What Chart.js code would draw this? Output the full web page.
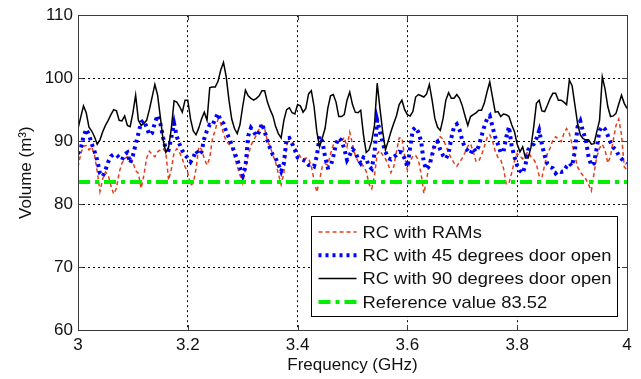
<!DOCTYPE html>
<html>
<head>
<meta charset="utf-8">
<title>Volume vs Frequency</title>
<script src="https://cdn.jsdelivr.net/npm/chart.js"></script>
<style>
    body { margin: 0; background: #fff; }
    canvas { display: block; }
</style>
</head>
<body>
<canvas id="volChart" width="641" height="379"></canvas>
<script>
// frequency grid: 3 to 4 GHz, sampled every 5 MHz
var FREQ_START = 3.0, FREQ_STEP = 0.005;
var REFERENCE_VALUE = 83.52;

// volume (m^3), one row per 0.1 GHz
var volRAM = [
    85.9, 88.0, 89.2, 89.3, 88.6, 89.1, 87.8, 85.2, 82.0, 84.0, 85.1, 84.6, 82.9, 81.6, 82.5, 85.0, 86.5, 87.2, 87.5, 87.5,
    86.7, 85.3, 84.9, 82.5, 84.6, 87.3, 88.4, 87.9, 87.5, 88.3, 88.6, 88.8, 88.2, 83.8, 85.5, 88.2, 88.8, 88.2, 87.2, 85.9,
    85.0, 83.0, 83.3, 85.6, 89.1, 88.7, 87.2, 86.2, 87.3, 90.5, 91.7, 93.5, 92.8, 91.2, 90.0, 89.5, 89.1, 87.4, 86.0, 84.6,
    83.3, 85.6, 87.7, 89.3, 90.2, 91.0, 91.9, 92.6, 92.0, 90.0, 89.1, 87.8, 86.6, 84.8, 83.1, 84.9, 89.3, 90.6, 89.9, 88.9,
    88.4, 87.5, 87.1, 87.3, 87.3, 86.0, 83.8, 81.9, 83.8, 86.0, 86.4, 86.2, 88.0, 89.4, 90.0, 89.9, 90.0, 90.6, 89.1, 91.4,
    89.5, 87.7, 86.8, 86.5, 86.0, 85.2, 83.2, 82.4, 84.5, 88.0, 88.5, 87.8, 87.2, 86.3, 85.0, 85.9, 88.3, 90.5, 90.5, 87.5,
    85.4, 86.7, 87.7, 87.7, 87.0, 84.8, 81.7, 83.9, 86.6, 88.3, 89.5, 90.3, 90.7, 90.3, 89.3, 88.1, 87.3, 86.5, 86.0, 86.7,
    87.3, 88.2, 89.2, 89.6, 88.3, 86.8, 86.8, 87.8, 89.1, 90.5, 91.0, 90.0, 88.4, 87.4, 87.0, 85.7, 83.2, 83.3, 85.0, 86.8,
    88.0, 87.6, 87.2, 87.9, 88.3, 87.5, 87.1, 86.3, 84.5, 84.2, 86.2, 88.0, 88.9, 90.2, 90.7, 90.3, 89.9, 91.2, 92.0, 91.2,
    89.5, 87.7, 85.9, 85.1, 84.5, 84.0, 83.1, 82.1, 84.9, 87.5, 88.9, 89.5, 88.6, 86.5, 87.6, 90.2, 92.5, 93.5, 91.0, 85.9,
    85.4
];

var vol45 = [
    88.0, 88.8, 90.7, 91.9, 91.0, 89.6, 88.4, 87.0, 84.9, 84.4, 85.4, 86.7, 87.6, 87.9, 87.8, 87.4, 87.0, 87.9, 88.2, 86.5,
    87.7, 89.5, 91.2, 93.0, 93.3, 92.2, 91.0, 91.3, 92.9, 94.1, 92.8, 90.6, 88.7, 88.6, 90.5, 92.8, 90.7, 89.5, 88.5, 87.8,
    87.3, 86.7, 87.4, 88.5, 87.8, 88.3, 90.4, 91.7, 92.6, 92.5, 93.6, 94.4, 93.2, 92.8, 91.5, 90.5, 89.4, 88.2, 87.1, 85.8,
    84.5, 85.9, 90.8, 92.1, 91.5, 90.8, 91.5, 92.8, 91.5, 90.1, 88.8, 87.8, 87.3, 86.3, 85.2, 86.5, 90.4, 90.5, 89.6, 88.6,
    87.4, 87.2, 87.0, 86.8, 86.2, 86.3, 86.0, 87.6, 90.8, 90.0, 87.5, 85.8, 85.9, 87.6, 89.5, 90.5, 90.1, 88.8, 87.0, 87.8,
    88.7, 88.3, 87.2, 86.5, 87.4, 87.2, 86.0, 85.6, 88.0, 93.3, 91.5, 89.7, 88.3, 87.3, 87.1, 87.5, 87.8, 88.3, 88.2, 87.2,
    85.9, 89.0, 91.8, 92.2, 91.4, 90.0, 86.5, 85.5, 86.1, 87.8, 89.5, 89.9, 88.6, 87.7, 87.2, 88.0, 90.5, 92.3, 92.7, 91.8,
    90.1, 88.9, 88.5, 88.0, 88.9, 88.3, 89.2, 90.8, 92.3, 93.5, 94.0, 92.3, 90.6, 89.5, 88.2, 88.3, 90.6, 92.3, 89.2, 87.5,
    86.1, 85.3, 84.9, 86.2, 88.6, 89.3, 89.5, 90.4, 91.7, 89.5, 87.7, 86.4, 85.9, 85.7, 84.9, 85.3, 85.1, 85.2, 86.0, 86.5,
    86.0, 88.4, 92.3, 93.2, 91.5, 90.2, 87.5, 86.1, 86.5, 89.0, 91.7, 92.3, 91.9, 90.9, 89.8, 89.0, 88.6, 87.7, 87.2, 86.8,
    86.5
];

var vol90 = [
    92.0, 93.8, 95.6, 94.5, 92.2, 91.6, 90.7, 89.5, 90.2, 91.5, 92.5, 93.3, 94.2, 95.0, 94.8, 93.3, 93.2, 94.0, 92.5, 92.3,
    94.5, 97.3, 93.3, 92.5, 92.8, 93.3, 95.0, 97.0, 99.0, 97.3, 93.8, 90.2, 88.2, 89.0, 92.0, 96.4, 96.2, 95.5, 94.6, 96.5,
    96.5, 93.5, 91.6, 91.0, 92.1, 93.5, 94.6, 93.3, 98.5, 98.6, 98.6, 99.5, 101.3, 102.5, 100.2, 96.5, 93.5, 92.0, 91.2, 92.6,
    95.5, 98.1, 97.2, 96.8, 96.5, 96.8, 97.2, 98.0, 98.0, 96.2, 95.0, 94.0, 92.3, 91.2, 90.5, 93.3, 95.0, 95.3, 94.5, 94.3,
    95.8, 95.6, 94.6, 95.2, 97.5, 98.0, 95.5, 91.5, 89.1, 90.5, 92.0, 95.2, 97.2, 97.4, 96.2, 93.9, 93.9, 94.2, 96.5, 97.8,
    95.8, 94.6, 94.5, 94.9, 91.0, 88.2, 88.6, 90.0, 92.5, 99.2, 95.2, 91.5, 88.6, 90.0, 91.5, 92.8, 94.0, 95.8, 96.5, 95.0,
    94.2, 94.0, 94.7, 97.0, 97.4, 97.2, 97.0, 97.5, 99.0, 96.5, 93.6, 92.2, 91.7, 93.6, 96.5, 97.7, 96.8, 96.8, 97.4, 96.8,
    95.6, 94.0, 92.5, 93.9, 94.2, 94.5, 94.9, 94.9, 96.0, 97.8, 99.4, 97.0, 94.6, 94.7, 93.9, 94.3, 94.2, 93.9, 92.6, 91.5,
    89.5, 88.3, 89.1, 87.3, 87.3, 89.0, 92.2, 96.0, 96.5, 94.8, 94.7, 95.7, 96.8, 97.6, 97.6, 96.5, 96.5, 96.2, 95.8, 99.7,
    98.8, 95.8, 92.8, 91.0, 90.4, 90.2, 90.2, 89.5, 89.6, 91.5, 93.3, 100.2, 98.3, 95.5, 93.9, 94.0, 94.4, 95.9, 97.3, 96.0,
    95.2
];

var seriesLabels = [
    'RC with RAMs',
    'RC with 45 degrees door open',
    'RC with 90 degrees door open',
    'Reference value 83.52'
];

var xTicks = [3, 3.2, 3.4, 3.6, 3.8, 4];
var yTicks = [60, 70, 80, 90, 100, 110];

var FONT = 'Liberation Sans, Arial, sans-serif';

function toPoints(values) {
    return values.map(function (v, i) {
        return { x: FREQ_START + i * FREQ_STEP, y: v };
    });
}

// frame, inward tick marks and legend, MATLAB style
var axesBoxPlugin = {
    id: 'axesBox',
    afterDatasetsDraw: function (chart) {
        var ctx = chart.ctx, a = chart.chartArea;
        var xs = chart.scales.x, ys = chart.scales.y;
        ctx.save();
        ctx.strokeStyle = '#3a3a3a';
        ctx.lineWidth = 1;
        ctx.setLineDash([]);
        ctx.beginPath();
        xTicks.forEach(function (t) {
            var px = Math.round(xs.getPixelForValue(t)) + 0.5;
            ctx.moveTo(px, a.bottom); ctx.lineTo(px, a.bottom - 5);
            ctx.moveTo(px, a.top); ctx.lineTo(px, a.top + 5);
        });
        yTicks.forEach(function (t) {
            var py = Math.round(ys.getPixelForValue(t)) + 0.5;
            ctx.moveTo(a.left, py); ctx.lineTo(a.left + 5, py);
            ctx.moveTo(a.right, py); ctx.lineTo(a.right - 5, py);
        });
        ctx.stroke();
        ctx.strokeRect(Math.round(a.left) + 0.5, Math.round(a.top) + 0.5,
            Math.round(a.right - a.left), Math.round(a.bottom - a.top));
        ctx.restore();
    },
    afterDraw: function (chart) {
        var ctx = chart.ctx, a = chart.chartArea;
        var boxW = 306, boxH = 100;
        var bx = Math.round(a.right - 10 - boxW) + 0.5;
        var by = Math.round(a.bottom - 14 - boxH) + 0.5;
        ctx.save();
        ctx.fillStyle = '#fff';
        ctx.fillRect(bx, by, boxW, boxH);
        ctx.strokeStyle = '#000';
        ctx.lineWidth = 1;
        ctx.setLineDash([]);
        ctx.strokeRect(bx, by, boxW, boxH);
        ctx.font = '17px ' + FONT;
        ctx.textBaseline = 'middle';
        ctx.fillStyle = '#111';
        var legendOrder = [0, 1, 2, 3];
        legendOrder.forEach(function (di, row) {
            var ds = chart.data.datasets[di];
            var cy = by + 15.5 + row * 23.3;
            ctx.save();
            ctx.strokeStyle = ds.borderColor;
            ctx.lineWidth = ds.borderWidth;
            ctx.setLineDash(ds.borderDash || []);
            ctx.beginPath();
            ctx.moveTo(bx + 7, cy);
            ctx.lineTo(bx + 45, cy);
            ctx.stroke();
            ctx.restore();
            // reference text is a little wider than the font, stretch it
            ctx.save();
            ctx.translate(bx + 51, cy + 1);
            ctx.scale(1.08, 1);
            ctx.fillText(ds.label, 0, 0);
            ctx.restore();
        });
        ctx.restore();
    }
};

var chart = new Chart(document.getElementById('volChart'), {
    type: 'line',
    data: {
        datasets: [
            {
                label: seriesLabels[0],
                data: toPoints(volRAM),
                borderColor: '#e2401c',
                borderWidth: 1.5,
                borderDash: [4, 3],
                order: 4
            },
            {
                label: seriesLabels[1],
                data: toPoints(vol45),
                borderColor: '#0000ff',
                borderWidth: 4,
                borderDash: [3, 4],
                order: 3
            },
            {
                label: seriesLabels[2],
                data: toPoints(vol90),
                borderColor: '#000000',
                borderWidth: 1.5,
                order: 2
            },
            {
                label: seriesLabels[3],
                data: [{ x: 3, y: REFERENCE_VALUE }, { x: 4, y: REFERENCE_VALUE }],
                borderColor: '#00ee00',
                borderWidth: 4,
                borderDash: [12, 5, 4, 5],
                order: 1
            }
        ]
    },
    options: {
        responsive: false,
        animation: false,
        events: [],
        elements: {
            point: { radius: 0 },
            line: { tension: 0, fill: false }
        },
        layout: { padding: { top: 15, right: 14, left: 0, bottom: 0 } },
        plugins: {
            legend: { display: false },
            tooltip: { enabled: false }
        },
        scales: {
            x: {
                type: 'linear',
                min: 3,
                max: 4,
                afterBuildTicks: function (scale) {
                    scale.ticks = xTicks.map(function (v) { return { value: v }; });
                },
                afterFit: function (scale) { scale.height = 49; },
                ticks: {
                    color: '#111',
                    font: { family: FONT, size: 17 },
                    padding: 5,
                    maxRotation: 0,
                    autoSkip: false,
                    callback: function (v) { return String(Number(v.toFixed(1))); }
                },
                grid: { color: '#000', lineWidth: 1, drawTicks: false },
                border: { display: false, dash: [2, 3] },
                title: {
                    display: true,
                    text: 'Frequency (GHz)',
                    color: '#111',
                    font: { family: FONT, size: 17 },
                    padding: { top: 0, bottom: 3 }
                }
            },
            y: {
                min: 60,
                max: 110,
                afterBuildTicks: function (scale) {
                    scale.ticks = yTicks.map(function (v) { return { value: v }; });
                },
                afterFit: function (scale) { scale.width = 78; },
                ticks: {
                    color: '#111',
                    font: { family: FONT, size: 17 },
                    padding: 5
                },
                grid: { color: '#000', lineWidth: 1, drawTicks: false },
                border: { display: false, dash: [2, 3] },
                title: {
                    display: true,
                    text: 'Volume (m\u00B3)',
                    color: '#111',
                    font: { family: FONT, size: 17 },
                    padding: { top: 16, bottom: 0 }
                }
            }
        }
    },
    plugins: [axesBoxPlugin]
});
</script>
</body>
</html>
